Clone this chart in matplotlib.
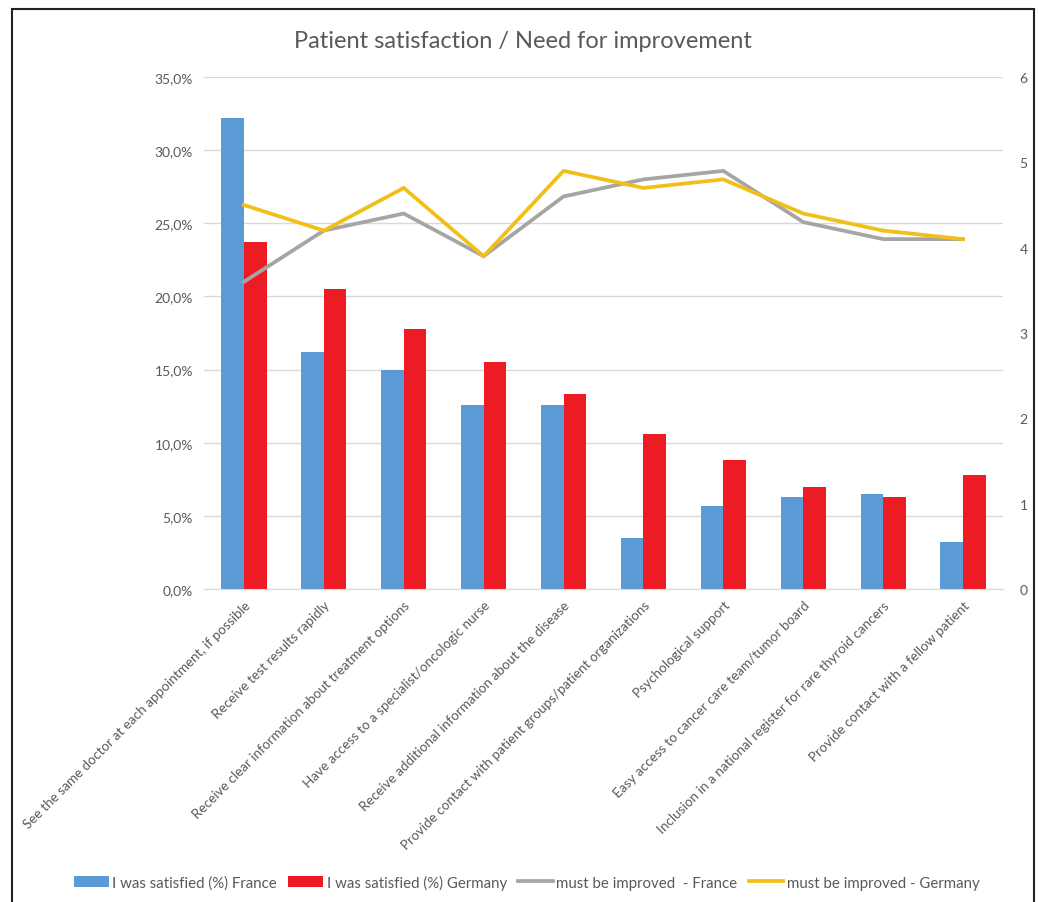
import matplotlib
matplotlib.use("Agg")
import matplotlib.pyplot as plt
import numpy as np
from matplotlib.ticker import FuncFormatter, MultipleLocator
from matplotlib.patches import Rectangle, Patch
from matplotlib.lines import Line2D

categories = [
    "See the same doctor at each appointment, if possible",
    "Receive test results rapidly",
    "Receive clear information about treatment options",
    "Have access to a specialist/oncologic nurse",
    "Receive additional information about the disease",
    "Provide contact with patient groups/patient organizations",
    "Psychological support",
    "Easy access to cancer care team/tumor board",
    "Inclusion in a national register for rare thyroid cancers",
    "Provide contact with a fellow patient",
]
satisfied_france = [32.2, 16.2, 15.0, 12.6, 12.6, 3.5, 5.7, 6.3, 6.5, 3.2]
satisfied_germany = [23.7, 20.5, 17.8, 15.5, 13.3, 10.6, 8.8, 7.0, 6.3, 7.8]
improve_france = [3.6, 4.2, 4.4, 3.9, 4.6, 4.8, 4.9, 4.3, 4.1, 4.1]
improve_germany = [4.5, 4.2, 4.7, 3.9, 4.9, 4.7, 4.8, 4.4, 4.2, 4.1]

series_names = ["I was satisfied (%) France", "I was satisfied (%) Germany",
                "must be improved  - France", "must be improved - Germany"]

C_BLUE = "#5B9BD5"
C_RED = "#ED1C24"
C_GREY = "#A5A5A5"
C_YEL = "#F2BE1A"
TXT = "#595959"

plt.rcParams['font.family'] = ['Lato', 'DejaVu Sans']

W, H = 1038, 903
fig = plt.figure(figsize=(W / 100, H / 100), dpi=100)
ax = fig.add_axes([204 / W, 1 - 590 / H, (1003 - 204) / W, (590 - 78) / H])

x = np.arange(len(categories))
w = 0.283
ax.bar(x - w / 2, satisfied_france, w, color=C_BLUE, zorder=2)
ax.bar(x + w / 2, satisfied_germany, w, color=C_RED, zorder=2)
ax.set_xlim(-0.5, len(categories) - 0.5)
ax.set_ylim(0, 35)
ax.yaxis.set_major_locator(MultipleLocator(5))
ax.yaxis.set_major_formatter(FuncFormatter(lambda v, p: f"{v:.1f}%".replace(".", ",")))
ax.grid(axis='y', color="#D9D9D9", linewidth=1, zorder=0)
ax.set_axisbelow(True)
for s in ["top", "right", "left"]:
    ax.spines[s].set_visible(False)
ax.spines["bottom"].set_color("#D9D9D9")
ax.tick_params(axis='both', length=0, colors=TXT, labelsize=10)
ax.tick_params(axis='y', pad=8)
ax.set_xticks(x)
ax.set_xticklabels(categories, rotation=45, ha='right', va='top',
                   rotation_mode='anchor', fontsize=9.7, color=TXT)
ax.tick_params(axis='x', pad=7)

ax2 = ax.twinx()
ax2.plot(x, improve_france, color=C_GREY, linewidth=2.7, solid_joinstyle='miter')
ax2.plot(x, improve_germany, color=C_YEL, linewidth=2.7, solid_joinstyle='miter')
ax2.set_ylim(0, 6)
ax2.yaxis.set_major_locator(MultipleLocator(1))
for s in ["top", "right", "left", "bottom"]:
    ax2.spines[s].set_visible(False)
ax2.tick_params(axis='y', length=0, colors=TXT, labelsize=10, pad=12)

fig.text(523 / W, 1 - 42 / H, "Patient satisfaction / Need for improvement",
         ha='center', va='center', fontsize=17, color=TXT)

handles = [Patch(facecolor=C_BLUE), Patch(facecolor=C_RED),
           Line2D([], [], color=C_GREY, linewidth=2.7),
           Line2D([], [], color=C_YEL, linewidth=2.7)]
leg = fig.legend(handles, series_names, loc='center', bbox_to_anchor=(527 / W, 1 - 883 / H),
                 ncol=4, frameon=False, fontsize=10.8, handlelength=2.3, handleheight=0.7,
                 handletextpad=0.25, columnspacing=0.75)
for t in leg.get_texts():
    t.set_color(TXT)

fig.patches.append(Rectangle((12 / W, -0.05), (1034 - 12) / W, 1.05 - 10 / H,
                             transform=fig.transFigure, fill=False,
                             edgecolor="#222222", linewidth=1.5))

fig.savefig("out.png", dpi=100)
